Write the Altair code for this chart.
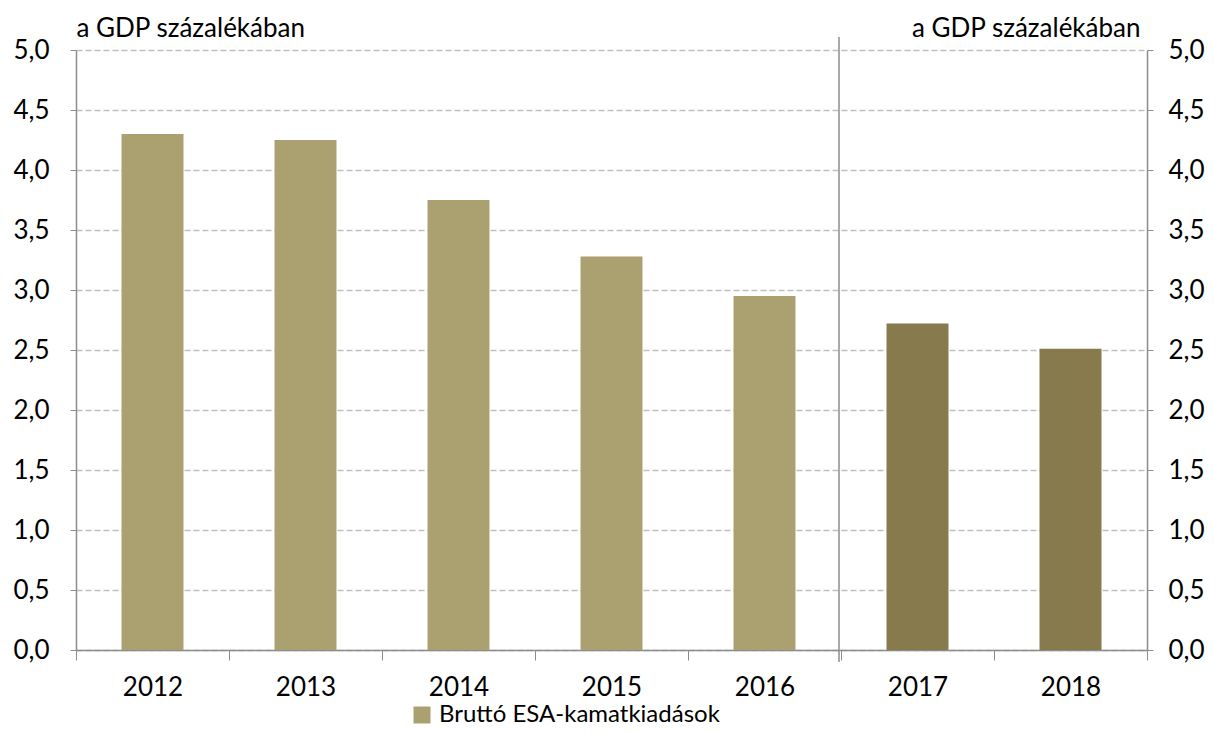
import altair as alt
import pandas as pd

years = ["2012", "2013", "2014", "2015", "2016", "2017", "2018"]
values = [4.30, 4.25, 3.75, 3.28, 2.95, 2.72, 2.51]
forecast = [False, False, False, False, False, True, True]
series_name = "Bruttó ESA-kamatkiadások"
axis_title = "a GDP százalékában"

df = pd.DataFrame({"year": years, "value": values, "forecast": forecast})
df["series"] = series_name
sep_df = pd.DataFrame({"year": ["2017"]})

FONT = "Lato"
FS = 26
LIGHT = "#ABA06F"
DARK = "#877A4D"
label_expr = "replace(format(datum.value, '.1f'), '.', ',')"

xscale = alt.Scale(domain=years, paddingInner=0, paddingOuter=0)
xenc = alt.X(
    "year:O", scale=xscale, title=None,
    axis=alt.Axis(labelAngle=0, tickBand="extent", tickSize=10, tickColor="#8C8C8C",
                  domainColor="#8C8C8C", labelFontSize=FS, labelFont=FONT,
                  labelColor="#000000", labelPadding=14, grid=False, domainWidth=1.5),
)
yscale = alt.Scale(domain=[0, 5], nice=False, zero=True)

left_axis = alt.Axis(
    values=[0, 0.5, 1, 1.5, 2, 2.5, 3, 3.5, 4, 4.5, 5], labelExpr=label_expr,
    grid=True, gridDash=[6, 3], gridColor="#C0C0C0", gridWidth=1.5,
    tickSize=6, tickColor="#8C8C8C", domainColor="#8C8C8C", domainWidth=1.5,
    labelFontSize=FS, labelFont=FONT, labelColor="#000000", labelPadding=21,
    title=axis_title, titleAngle=0, titleX=0, titleY=-14, titleAlign="left",
    titleBaseline="alphabetic", titleFont=FONT, titleFontSize=FS,
    titleFontWeight="normal", titleColor="#000000",
)
right_axis = alt.Axis(
    orient="right",
    values=[0, 0.5, 1, 1.5, 2, 2.5, 3, 3.5, 4, 4.5, 5], labelExpr=label_expr,
    grid=False, tickSize=6, tickColor="#8C8C8C", domainColor="#8C8C8C", domainWidth=1.5,
    labelFontSize=FS, labelFont=FONT, labelColor="#000000", labelPadding=15,
    title=axis_title, titleAngle=0, titleX=-7, titleY=-14, titleAlign="right",
    titleBaseline="alphabetic", titleFont=FONT, titleFontSize=FS,
    titleFontWeight="normal", titleColor="#000000",
)

actual = alt.Chart(df).transform_filter("!datum.forecast").mark_bar(
    width=alt.RelativeBandSize(0.405)
).encode(
    x=xenc,
    y=alt.Y("value:Q", scale=yscale, axis=left_axis),
    color=alt.Color(
        "series:N", scale=alt.Scale(domain=[series_name], range=[LIGHT]),
        legend=alt.Legend(orient="none", legendX=334, legendY=653, title=None,
                          symbolType="square", symbolSize=289, symbolStrokeWidth=0,
                          labelFontSize=24, labelFont=FONT, labelColor="#000000",
                          labelOffset=5, padding=0, labelLimit=1000),
    ),
)

fc = alt.Chart(df).transform_filter("datum.forecast").mark_bar(
    width=alt.RelativeBandSize(0.405), color=DARK
).encode(
    x=alt.X("year:O", scale=xscale),
    y=alt.Y("value:Q", scale=yscale),
)

right = alt.Chart(df).mark_point(opacity=0).encode(
    x=alt.X("year:O", scale=xscale),
    y=alt.Y("value:Q", scale=yscale, axis=right_axis),
)

sep = alt.Chart(sep_df).mark_rule(color="#8C8C8C", strokeWidth=1.5, xOffset=-2).encode(
    x=alt.X("year:O", scale=xscale, bandPosition=0),
    y=alt.value(-13),
    y2=alt.value(612),
)

left_layer = alt.layer(actual, fc, sep)
chart = alt.layer(left_layer, right).resolve_scale(y="independent").properties(
    width=1071, height=600, autosize="none",
    padding={"left": 68, "top": 42, "right": 60, "bottom": 77},
).configure_view(stroke=None)

chart.save("out.html", embed_options={"renderer": "svg", "actions": False})
